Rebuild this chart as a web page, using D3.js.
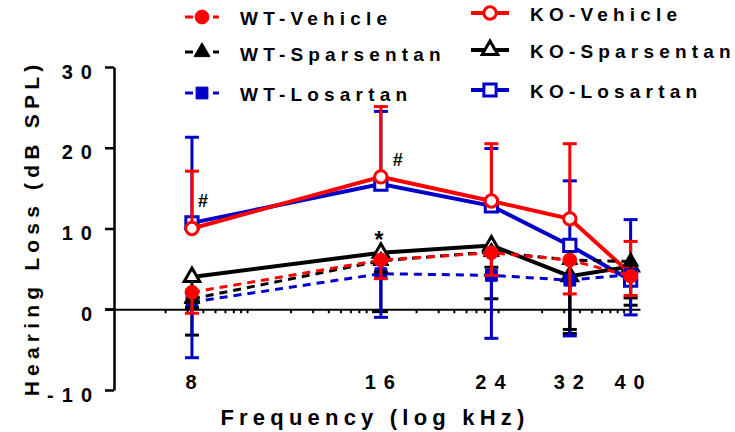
<!DOCTYPE html>
<html>
<head>
<meta charset="utf-8">
<script src="https://cdn.jsdelivr.net/npm/d3@7"></script>
<style>
  body { margin: 0; background: #fff; }
  text { font-family: "Liberation Sans", Arial, sans-serif; font-weight: bold; }
</style>
</head>
<body>
<script>
const width = 735, height = 432;

// data (hearing loss, dB SPL)
const freqs = [8, 16, 24, 32, 40];
const wtVehicle = [2.1, 6.1, 7.0, 6.1, 4.1];
const wtVehicleLo = [-0.5, 3.8, 4.2, 1.9, 1.7];
const wtSparsentan = [1.3, 6.0, 7.1, 6.1, 5.9];
const wtSparsentanLo = [0.2, 4.6, 5.2, -2.5, 1.4];
const wtLosartan = [0.9, 4.4, 4.2, 3.6, 4.3];
const wtLosartanLo = [-6.0, -1.0, -3.6, -3.3, -0.7];
const koVehicle = [10.0, 16.4, 13.4, 11.2, 4.4];
const koVehicleHi = [17.1, 25.1, 20.5, 20.5, 8.4];
const koSparsentan = [4.0, 7.0, 7.9, 4.1, 5.3];
const koSparsentanLo = [-3.2, -0.3, 1.3, -3.0, 0.5];
const koLosartan = [10.7, 15.5, 12.8, 7.9, 3.6];
const koLosartanHi = [21.3, 24.5, 19.9, 15.9, 11.1];
const yTicks = [-10, 0, 10, 20, 30];
const notes = [
  { f: 8, v: 12.7, t: "#", dx: 11, fs: 18 },
  { f: 16, v: 17.7, t: "#", dx: 17, fs: 18 },
  { f: 16, v: 7.6, t: "*", dx: -2, fs: 23 }
];

const red = "#ff0000", blue = "#0000c8", black = "#000";

// drawing order, bottom to top
const series = [
  { name: "KO-Losartan", v: koLosartan, err: koLosartanHi, color: blue, shape: d3.symbolSquare, size: 150, open: true, dash: false },
  { name: "KO-Sparsentan", v: koSparsentan, err: koSparsentanLo, color: black, shape: d3.symbolTriangle, size: 105, open: true, dash: false },
  { name: "KO-Vehicle", v: koVehicle, err: koVehicleHi, color: red, shape: d3.symbolCircle, size: 120, open: true, dash: false },
  { name: "WT-Losartan", v: wtLosartan, err: wtLosartanLo, color: blue, shape: d3.symbolSquare, size: 140, open: false, dash: true },
  { name: "WT-Sparsentan", v: wtSparsentan, err: wtSparsentanLo, color: black, shape: d3.symbolTriangle, size: 110, open: false, dash: true },
  { name: "WT-Vehicle", v: wtVehicle, err: wtVehicleLo, color: red, shape: d3.symbolCircle, size: 150, open: false, dash: true }
];
const byName = Object.fromEntries(series.map(s => [s.name, s]));
const legendLeft = ["WT-Vehicle", "WT-Sparsentan", "WT-Losartan"];
const legendRight = ["KO-Vehicle", "KO-Sparsentan", "KO-Losartan"];

const x = d3.scaleLog().domain([6.01, 41.4]).range([114, 640]);
const y = d3.scaleLinear().domain([-10, 30]).range([390, 67]);

const svg = d3.select("body").append("svg")
  .attr("width", width)
  .attr("height", height);

// y axis
const yAxis = svg.append("g")
  .attr("transform", `translate(${x.range()[0]},0)`)
  .call(d3.axisLeft(y).tickValues(yTicks).tickSize(9).tickSizeOuter(0).tickPadding(12).tickFormat(d => String(d)));
yAxis.select(".domain").attr("stroke-width", 2.5);
yAxis.selectAll(".tick line").attr("stroke-width", 2.5);
yAxis.selectAll(".tick text")
  .attr("font-size", 20)
  .attr("letter-spacing", 8)
  .attr("dx", 7)
  .attr("dy", "0.55em")
  .attr("fill", "#000");

// x axis on the zero line: log style minor ticks
const minor = [];
for (let k = 0; k < 5; k++) {
  for (let m = 2; m <= 9; m++) minor.push(Math.pow(10, 0.8 + 0.2 * k) * Math.pow(m, 0.2));
}
const xAxis = svg.append("g")
  .attr("transform", `translate(0,${y(0)})`)
  .call(d3.axisBottom(x).tickValues(minor.filter(d => d < 41)).tickSize(4).tickSizeOuter(0).tickFormat(""));
xAxis.select(".domain").attr("stroke-width", 2.2);
xAxis.selectAll(".tick line").attr("stroke-width", 2);
svg.append("line")
  .attr("x1", 105).attr("x2", x.range()[0])
  .attr("y1", y(0)).attr("y2", y(0))
  .attr("stroke", "#000").attr("stroke-width", 2.2);

svg.append("g").selectAll("text")
  .data(freqs)
  .join("text")
  .attr("x", d => x(d) + 3)
  .attr("y", 389)
  .attr("text-anchor", "middle")
  .attr("font-size", 20)
  .attr("letter-spacing", 8)
  .text(d => d);

// axis titles
svg.append("text")
  .attr("x", 375)
  .attr("y", 425)
  .attr("text-anchor", "middle")
  .attr("font-size", 22)
  .attr("letter-spacing", 5.2)
  .text("Frequency (log kHz)");

svg.append("text")
  .attr("transform", "translate(39,228) rotate(-90)")
  .attr("text-anchor", "middle")
  .attr("font-size", 21)
  .attr("letter-spacing", 5.2)
  .text("Hearing Loss (dB SPL)");

// series
const line = d3.line().x(d => x(d[0])).y(d => y(d[1]));

const g = svg.append("g")
  .selectAll("g")
  .data(series)
  .join("g");

g.append("g")
  .selectAll("g")
  .data(s => freqs.map((f, i) => ({ f, v: s.v[i], e: s.err[i], c: s.color })))
  .join("g")
  .call(bar => {
    bar.append("line")
      .attr("x1", d => x(d.f)).attr("x2", d => x(d.f))
      .attr("y1", d => y(d.v)).attr("y2", d => y(d.e))
      .attr("stroke", d => d.c).attr("stroke-width", 3);
    bar.append("line")
      .attr("x1", d => x(d.f) - 7).attr("x2", d => x(d.f) + 7)
      .attr("y1", d => y(d.e)).attr("y2", d => y(d.e))
      .attr("stroke", d => d.c).attr("stroke-width", 3);
  });

g.append("path")
  .attr("d", s => line(freqs.map((f, i) => [f, s.v[i]])))
  .attr("fill", "none")
  .attr("stroke", s => s.color)
  .attr("stroke-width", s => s.dash ? 3 : 4)
  .attr("stroke-dasharray", s => s.dash ? "8,6" : null);

g.append("g")
  .selectAll("path")
  .data(s => freqs.map((f, i) => ({ f, v: s.v[i], s })))
  .join("path")
  .attr("transform", d => `translate(${x(d.f)},${y(d.v)})`)
  .attr("d", d => d3.symbol(d.s.shape, d.s.size)())
  .attr("fill", d => d.s.open ? "#fff" : d.s.color)
  .attr("stroke", d => d.s.color)
  .attr("stroke-width", d => d.s.open ? 3 : 1);

// significance marks
svg.append("g").selectAll("text")
  .data(notes)
  .join("text")
  .attr("x", d => x(d.f) + d.dx)
  .attr("y", d => y(d.v))
  .attr("text-anchor", "middle")
  .attr("font-size", d => d.fs)
  .text(d => d.t);

// legend
function legendItem(name, sx, tx, cy, ty) {
  const s = byName[name];
  const lg = svg.append("g");
  if (s.dash) {
    lg.append("line")
      .attr("x1", sx - 17).attr("x2", sx + 17)
      .attr("y1", cy).attr("y2", cy)
      .attr("stroke", s.color).attr("stroke-width", 3)
      .attr("stroke-dasharray", "8,6");
  } else {
    lg.append("line")
      .attr("x1", sx - 19).attr("x2", sx + 19)
      .attr("y1", cy).attr("y2", cy)
      .attr("stroke", s.color).attr("stroke-width", 4);
  }
  lg.append("path")
    .attr("transform", `translate(${sx},${cy})`)
    .attr("d", d3.symbol(s.shape, s.size)())
    .attr("fill", s.open ? "#fff" : s.color)
    .attr("stroke", s.color)
    .attr("stroke-width", s.open ? 3 : 1);
  lg.append("text")
    .attr("x", tx).attr("y", ty)
    .attr("font-size", 19)
    .attr("letter-spacing", 5.2)
    .text(name);
}
legendLeft.forEach((n, i) => legendItem(n, 202, 240, [17, 52, 93][i], [25, 61, 101][i]));
legendRight.forEach((n, i) => legendItem(n, 490, 530, [13, 50, 90][i], [21, 58, 98][i]));
</script>
</body>
</html>
